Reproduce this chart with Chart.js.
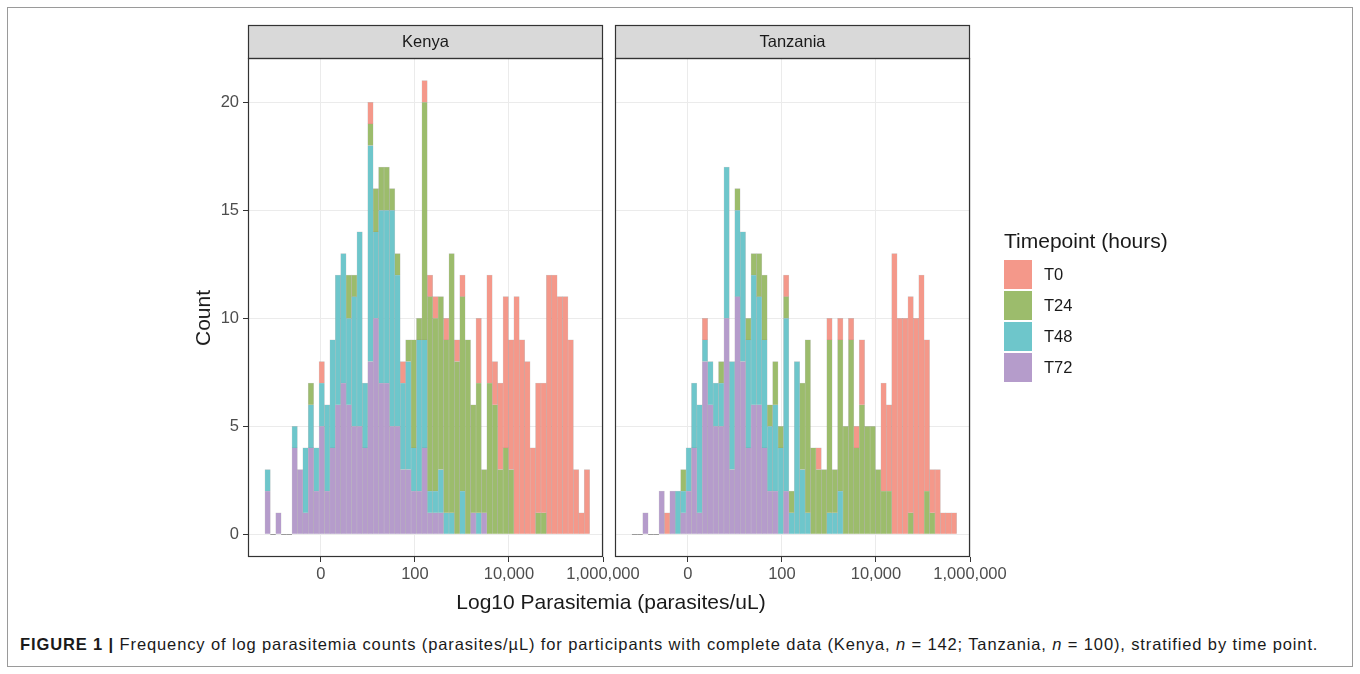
<!DOCTYPE html>
<html>
<head>
<meta charset="utf-8">
<script src="https://cdn.jsdelivr.net/npm/chart.js@4.4.0/dist/chart.umd.min.js"></script>
<style>
  body { margin: 0; width: 1360px; height: 674px; background: #fff; position: relative; overflow: hidden;
         font-family: "Liberation Sans", Arial, sans-serif; color: #1a1a1a; }
  #frame { position: absolute; left: 7px; top: 7px; width: 1344px; height: 658px; border: 1px solid #9a9a9a; }
  canvas { position: absolute; }
  #kenya { left: 150px; top: 20px; }
  #tanzania { left: 605px; top: 20px; }
  .title { position: absolute; font-size: 21px; white-space: nowrap; }
  #ytitle { left: 203px; top: 318px; transform: translate(-50%, -50%) rotate(-90deg); }
  #xtitle { left: 611px; top: 602px; transform: translate(-50%, -50%); }
  #legend { position: absolute; left: 1004px; top: 229px; }
  #legend .head { font-size: 21px; margin-bottom: 6px; margin-left: 0; }
  .key { display: flex; align-items: center; height: 31px; }
  .swatch { width: 28px; height: 29px; margin-right: 12px; }
  .key span { font-size: 16.5px; }
  #caption { position: absolute; left: 20px; top: 635px; font-size: 16.5px; letter-spacing: 0.88px; white-space: nowrap; }
</style>
</head>
<body>
<div id="frame"></div>
<canvas id="kenya" width="510" height="580"></canvas>
<canvas id="tanzania" width="415" height="580"></canvas>
<div class="title" id="ytitle">Count</div>
<div class="title" id="xtitle">Log10 Parasitemia (parasites/uL)</div>
<div id="legend"></div>
<div id="caption"><b>FIGURE 1 |</b> Frequency of log parasitemia counts (parasites/&micro;L) for participants with complete data (Kenya, <i>n</i> = 142; Tanzania, <i>n</i> = 100), stratified by time point.</div>
<script>
// histogram bins (log10 scale), 60 bins shared by both panels
const binStart = -1.19;
const binWidth = 0.1151;
const binCount = 60;

const timepoints = ['T0', 'T24', 'T48', 'T72'];
const colours = ['#F4988A', '#9CBC6C', '#6EC6CB', '#B59CCB'];

const xTickValues = [0, 2, 4, 6];
const xTickLabels = ['0', '100', '10,000', '1,000,000'];
const yTickValues = [0, 5, 10, 15, 20];

// Kenya counts per bin
const kenyaT0 = [0,0,0,0,0,0,0,0,0,0, 1,0,0,0,0,0,0,0,0,1, 0,0,0,0,0,1,0,0,0,1,
                 1,1,0,1,0,1,1,0,0,3, 0,5,2,4,7,6,11,9,8,4, 6,6,12,12,11,11,9,3,1,3];
const kenyaT24 = [0,0,0,0,0,0,0,0,1,0, 0,0,0,0,0,2,1,0,0,1, 2,2,2,1,1,0,1,5,1,11,
                  9,8,8,8,12,8,9,9,5,6, 2,7,6,3,4,3,0,0,0,0, 1,1,0,0,0,0,0,0,0,0];
const kenyaT48 = [1,0,0,0,0,1,0,3,2,2, 2,4,5,6,6,4,6,9,3,10, 4,8,8,10,7,4,5,2,7,5,
                  1,1,2,1,1,0,2,0,0,1, 0,0,0,0,0,0,0,0,0,0, 0,0,0,0,0,0,0,0,0,0];
const kenyaT72 = [2,0,1,0,0,4,3,1,4,2, 5,2,4,6,7,6,5,5,4,8, 10,7,7,5,5,3,3,2,2,4,
                  1,1,1,0,0,0,0,0,1,0, 1,0,0,0,0,0,0,0,0,0, 0,0,0,0,0,0,0,0,0,0];

// Tanzania counts per bin
const tanzaniaT0 = [0,0,0,0,0,0,1,0,0,0, 0,0,0,1,0,0,0,0,0,0, 0,0,0,0,0,0,0,0,1,0,
                    0,0,0,0,1,0,1,0,1,0, 1,1,3,0,0,0,5,4,13,10, 10,10,10,12,7,2,3,1,1,1];
const tanzaniaT24 = [0,0,0,0,0,0,0,0,0,1, 0,0,0,0,0,0,1,0,0,1, 0,1,1,2,3,1,2,1,1,1,
                     0,4,8,4,3,3,8,2,7,5, 9,4,6,5,5,3,2,2,0,0, 0,1,0,0,2,1,0,0,0,0];
const tanzaniaT48 = [0,0,0,0,0,0,0,0,2,1, 2,3,5,1,2,2,2,7,5,4, 6,5,6,5,5,3,4,4,8,1,
                     8,3,1,0,0,0,1,1,2,0, 0,0,0,0,0,0,0,0,0,0, 0,0,0,0,0,0,0,0,0,0];
const tanzaniaT72 = [0,0,1,0,0,2,0,2,0,1, 2,4,1,8,6,5,5,10,3,11, 8,4,6,6,4,2,2,0,2,0,
                     0,0,0,0,0,0,0,0,0,0, 0,0,0,0,0,0,0,0,0,0, 0,0,0,0,0,0,0,0,0,0];

const binCentres = [];
for (let i = 0; i < binCount; i++) binCentres.push(binStart + (i + 0.5) * binWidth);

const FONT = '"Liberation Sans", Arial, sans-serif';

// strip on top of each panel + dark panel border
const panelFrame = {
    id: 'panelFrame',
    afterDraw(chart, args, opts) {
        const ctx = chart.ctx;
        const a = chart.chartArea;
        const w = a.right - a.left;
        ctx.save();
        ctx.fillStyle = '#D9D9D9';
        ctx.fillRect(a.left, a.top - 33, w, 33);
        ctx.strokeStyle = '#333333';
        ctx.lineWidth = 1.2;
        ctx.strokeRect(a.left + 0.5, a.top - 33 + 0.5, w - 1, 33);
        ctx.strokeRect(a.left + 0.5, a.top + 0.5, w - 1, a.bottom - a.top - 1);
        ctx.fillStyle = '#1A1A1A';
        ctx.font = '16.5px ' + FONT;
        ctx.textAlign = 'center';
        ctx.textBaseline = 'middle';
        ctx.fillText(opts.title, a.left + w / 2, a.top - 16);
        ctx.restore();
    }
};

// empty bins inside the data range show as a flat outline on zero
const emptyBins = {
    id: 'emptyBins',
    afterDatasetsDraw(chart, args, opts) {
        const ctx = chart.ctx;
        const xs = chart.scales.x, ys = chart.scales.y;
        const totals = binCentres.map((c, i) => opts.series.reduce((t, s) => t + s[i], 0));
        const first = totals.findIndex(t => t > 0);
        const y0 = Math.round(ys.getPixelForValue(0)) + 0.5;
        ctx.save();
        ctx.strokeStyle = 'rgba(120,120,120,0.7)';
        ctx.lineWidth = 1;
        totals.forEach((t, i) => {
            if (t > 0 || i < first - 2) return;
            const x1 = xs.getPixelForValue(binStart + i * binWidth);
            const x2 = xs.getPixelForValue(binStart + (i + 1) * binWidth);
            ctx.beginPath();
            ctx.moveTo(x1, y0);
            ctx.lineTo(x2, y0);
            ctx.stroke();
        });
        ctx.restore();
    }
};

function makePanel(id, title, series, showY) {
    const datasets = [];
    // T72 at the bottom of the stack, T0 on top
    for (let s = 3; s >= 0; s--) {
        datasets.push({
            label: timepoints[s],
            data: series[s].map((v, i) => ({ x: binCentres[i], y: v })),
            backgroundColor: colours[s],
            borderColor: 'rgba(110,110,110,0.35)',
            borderWidth: 0.5,
            barPercentage: 1,
            categoryPercentage: 1
        });
    }

    const ctx = document.getElementById(id).getContext('2d');
    return new Chart(ctx, {
        type: 'bar',
        data: { datasets: datasets },
        plugins: [emptyBins, panelFrame],
        options: {
            responsive: false,
            animation: false,
            layout: { padding: showY ? { left: 50, right: 57, top: 38, bottom: 18 }
                                     : { left: 10, right: 50, top: 38, bottom: 18 } },
            plugins: {
                legend: { display: false },
                tooltip: { enabled: false },
                panelFrame: { title: title },
                emptyBins: { series: series }
            },
            scales: {
                x: {
                    type: 'linear',
                    stacked: true,
                    offset: false,
                    min: -1.55,
                    max: 6.0,
                    afterBuildTicks: (s) => { s.ticks = xTickValues.map(v => ({ value: v })); },
                    afterFit: (s) => { s.height = 25; s.paddingLeft = 0; s.paddingRight = 0; },
                    grid: { offset: false, color: '#EBEBEB', lineWidth: 1, tickColor: '#333333',
                            tickLength: 5, tickWidth: 1 },
                    border: { display: false },
                    ticks: {
                        color: '#4D4D4D',
                        font: { family: FONT, size: 16.5 },
                        padding: 3,
                        maxRotation: 0,
                        autoSkip: false,
                        callback: (v) => xTickLabels[xTickValues.indexOf(v)]
                    }
                },
                y: {
                    stacked: true,
                    min: -1.05,
                    max: 22.05,
                    afterBuildTicks: (s) => { s.ticks = yTickValues.map(v => ({ value: v })); },
                    afterFit: (s) => { s.width = showY ? 48 : 0; },
                    grid: { color: '#EBEBEB', lineWidth: 1, tickColor: '#333333', tickLength: 5,
                            tickWidth: 1, drawTicks: showY },
                    border: { display: false },
                    ticks: {
                        display: showY,
                        color: '#4D4D4D',
                        font: { family: FONT, size: 16.5 },
                        padding: 4
                    }
                }
            }
        }
    });
}

makePanel('kenya', 'Kenya', [kenyaT0, kenyaT24, kenyaT48, kenyaT72], true);
makePanel('tanzania', 'Tanzania', [tanzaniaT0, tanzaniaT24, tanzaniaT48, tanzaniaT72], false);

// legend
const legend = document.getElementById('legend');
legend.innerHTML = '<div class="head">Timepoint (hours)</div>' +
    timepoints.map((t, i) => '<div class="key"><div class="swatch" style="background:' + colours[i] +
        '"></div><span>' + t + '</span></div>').join('');
</script>
</body>
</html>
